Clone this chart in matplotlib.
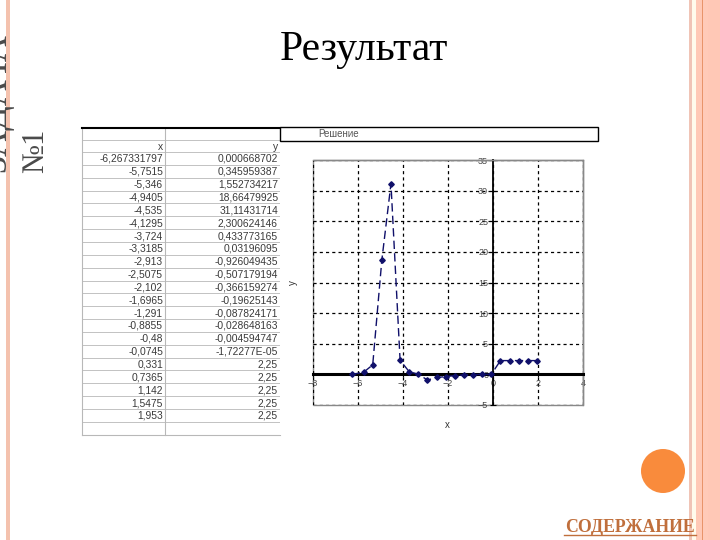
import matplotlib
matplotlib.use("Agg")
import matplotlib.pyplot as plt
from matplotlib.patches import Rectangle, Circle

# ---- data ----
x_vals = [-6.267331797, -5.7515, -5.346, -4.9405, -4.535, -4.1295, -3.724, -3.3185,
          -2.913, -2.5075, -2.102, -1.6965, -1.291, -0.8855, -0.48, -0.0745,
          0.331, 0.7365, 1.142, 1.5475, 1.953]
y_vals = [0.000668702, 0.345959387, 1.552734217, 18.66479925, 31.11431714, 2.300624146,
          0.433773165, 0.03196095, -0.926049435, -0.507179194, -0.366159274, -0.19625143,
          -0.087824171, -0.028648163, -0.004594747, -1.72277e-05,
          2.25, 2.25, 2.25, 2.25, 2.25]
x_ticks = [-8, -6, -4, -2, 0, 2, 4]
y_ticks = [-5, 0, 5, 10, 15, 20, 25, 30, 35]
col_headers = ["x", "y"]
slide_title = "Результат"
side_title = "ЗАДАЧА"
side_num = "№1"
chart_title = "Решение"
link_text = "СОДЕРЖАНИЕ"

W, H = 720, 540
fig = plt.figure(figsize=(7.2, 5.4), dpi=100)
fig.patch.set_facecolor("white")

bg = fig.add_axes([0, 0, 1, 1])
bg.set_xlim(0, W)
bg.set_ylim(H, 0)
bg.axis("off")

# left salmon bar
bg.add_patch(Rectangle((6, 0), 4, H, color="#f4c2ae", lw=0))
# right stripes
bg.add_patch(Rectangle((689, 0), 3, H, color="#f0c4b6", lw=0))
bg.add_patch(Rectangle((692, 0), 4, H, color="#fffbec", lw=0))
bg.add_patch(Rectangle((696, 0), 6, H, color="#ffc9b6", lw=0))
bg.add_patch(Rectangle((702, 0), 1.2, H, color="#e8946a", lw=0))
bg.add_patch(Rectangle((703.2, 0), 5, H, color="#ffcab8", lw=0))
bg.add_patch(Rectangle((708.2, 0), 12, H, color="#ffc8b6", lw=0))

# side titles
bg.text(13, 103, side_title, rotation=90, ha="right", va="center",
        fontsize=26, family="Liberation Serif", color="#4a4a4a")
bg.text(50, 151, side_num, rotation=90, ha="right", va="center",
        fontsize=22, family="Liberation Serif", color="#4a4a4a")

# slide title
bg.text(364, 50, slide_title, ha="center", va="center", fontsize=30,
        family="Liberation Serif", color="black")

# orange circle and link
bg.add_patch(Circle((663, 471), 22, color="#f98b3c", lw=0))
bg.text(630, 527, link_text, ha="center", va="center", fontsize=12.8,
        family="Liberation Serif", weight="bold", color="#c06f3c")
bg.plot([564, 696], [535, 535], color="#c06f3c", lw=1)

# ---- table ----
def fmt(v):
    if v != 0 and abs(v) < 1e-4:
        return f"{v:.5E}".replace(".", ",")
    return repr(v).replace(".", ",")

tl, tc, tr = 82, 165, 280
ttop = 128
row_h = 12.85
hdr_top = 140
data_top = 152
n = len(x_vals)
tbot = data_top + (n + 1) * row_h
lc = "#b8b8b8"
bg.plot([tl, tl], [ttop, tbot], color=lc, lw=0.8)
bg.plot([tc, tc], [ttop, tbot], color=lc, lw=0.8)
bg.plot([tl, tr], [tbot, tbot], color=lc, lw=0.8)
bg.plot([tl, tr], [hdr_top, hdr_top], color=lc, lw=0.6)
for i in range(n + 1):
    yy = data_top + i * row_h
    bg.plot([tl, tr], [yy, yy], color=lc, lw=0.6)
bg.plot([tl, tr], [ttop, ttop], color="black", lw=1.5)
tfs = 7.4
tcol = "#3a3a3a"
bg.text(tc - 2, hdr_top + row_h / 2 + 1, col_headers[0], ha="right", va="center",
        fontsize=tfs, family="Liberation Sans", color=tcol)
bg.text(tr - 2, hdr_top + row_h / 2 + 1, col_headers[1], ha="right", va="center",
        fontsize=tfs, family="Liberation Sans", color=tcol)
for i, (xv, yv) in enumerate(zip(x_vals, y_vals)):
    yy = data_top + i * row_h + row_h / 2 + 0.5
    bg.text(tc - 2, yy, fmt(xv), ha="right", va="center", fontsize=tfs,
            family="Liberation Sans", color=tcol)
    bg.text(tr - 2, yy, fmt(yv), ha="right", va="center", fontsize=tfs,
            family="Liberation Sans", color=tcol)

# chart area
bg.add_patch(Rectangle((280, 141), 318, tbot - 141, facecolor="white", lw=0, zorder=3))
bg.add_patch(Rectangle((280, 127), 318, 14, facecolor="white", edgecolor="black",
                       lw=1.0, zorder=4))
bg.text(318, 134, chart_title, ha="left", va="center", fontsize=7,
        family="Liberation Sans", color="#555555", zorder=5)

# ---- chart ----
pl, pr, pt, pb = 313, 583, 160, 405
ax = fig.add_axes([pl / W, 1 - pb / H, (pr - pl) / W, (pb - pt) / H])
ax.set_xlim(-8, 4)
ax.set_ylim(-5, 35)
ax.set_facecolor("white")
ax.set_xticks(x_ticks)
ax.set_yticks(y_ticks)
ax.grid(True, color="black", lw=0.9, linestyle=(0, (2.5, 2.5)))
ax.set_axisbelow(True)
for s in ["top", "right"]:
    ax.spines[s].set_color("#888888")
    ax.spines[s].set_linewidth(1)
ax.spines["left"].set_position(("data", 0))
ax.spines["bottom"].set_position(("data", 0))
ax.spines["left"].set_color("black")
ax.spines["left"].set_linewidth(1.3)
ax.spines["bottom"].set_color("black")
ax.spines["bottom"].set_linewidth(2.2)
ax.add_patch(Rectangle((0, 0), 1, 1, transform=ax.transAxes, fill=False,
                       edgecolor="#888888", lw=1, zorder=0.5, clip_on=False))
ax.tick_params(axis="both", direction="inout", length=4, width=0.8, color="black",
               labelsize=6.5, labelcolor="#444444", pad=1.5)
for lab in ax.get_xticklabels() + ax.get_yticklabels():
    lab.set_family("Liberation Sans")
ax.plot(x_vals, y_vals, color="#10106a", lw=1.0, linestyle=(0, (6, 3)),
        marker="D", markersize=2.8, zorder=5, clip_on=False)
ax.set_xlabel("x", fontsize=7, family="Liberation Sans", color="#333333")
ax.set_ylabel("y", fontsize=7, family="Liberation Sans", color="#333333")
ax.xaxis.set_label_coords((447 - pl) / (pr - pl), -0.06)
ax.yaxis.set_label_coords((298 - pl) / (pr - pl), (pb - 283) / (pb - pt))

fig.savefig("out.png", dpi=100)
